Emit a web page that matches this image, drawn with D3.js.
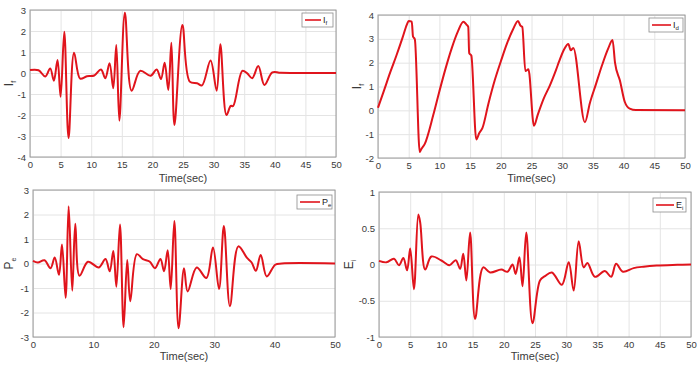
<!DOCTYPE html>
<html>
<head>
<meta charset="utf-8">
<script src="https://cdn.jsdelivr.net/npm/d3@7"></script>
<style>
  body { margin: 0; background: #fff; }
  svg { display: block; font-family: "Liberation Sans", Arial, sans-serif; }
</style>
</head>
<body>
<script>
// data (time in sec, value)
var tIf = [0,1.4,2.5,3.3,3.9,4.5,5.0,5.6,6.3,7.2,8.2,9.3,10.5,11.6,12.3,13.0,13.6,14.1,14.6,15.5,16.6,18.0,19.7,20.7,21.4,22.0,22.6,23.1,23.6,24.9,26.1,27.3,28.1,29.5,30.5,31.1,32.1,32.8,33.2,34.7,35.5,36.3,37.3,38.3,39.6,41,50];
var vIf = [0.14,0.13,-0.17,0.22,-0.37,0.62,-1.13,1.97,-3.1,0.97,-0.27,-0.15,-0.12,0.17,-0.25,0.46,-0.73,1.33,-2.27,2.87,-0.84,0.1,-0.13,0.17,-0.29,0.49,-0.81,1.44,-2.48,2.29,-0.41,-0.49,-0.59,0.59,-0.84,1.37,-2.0,-1.57,-1.57,0.1,-0.02,-0.25,0.33,-0.57,0.03,0.01,0];

var tId = [0,1,2,3,4,4.7,5.0,5.5,5.7,6.0,6.8,7.0,7.6,9,10,11,12,13,13.9,14.4,14.7,14.85,15.2,16.0,16.5,17.0,18,19,20,21,22,22.8,23.2,23.5,24.0,24.5,25.4,26,27,28,29,29.5,30.3,31.0,31.4,31.8,33.7,34.5,35.5,36.5,37.5,38.2,38.6,39.4,40.2,41,42,50];
var vId = [0.11,0.85,1.6,2.3,3.05,3.6,3.75,3.72,3.1,2.98,-1.75,-1.65,-1.42,-0.2,0.8,1.75,2.6,3.3,3.72,3.6,3.5,2.4,2.3,-1.22,-0.95,-0.75,0.3,1.25,2.05,2.8,3.4,3.75,3.55,3.5,1.65,1.72,-0.65,-0.2,0.5,1.05,1.7,2.05,2.55,2.78,2.52,2.62,-0.5,0.3,1.1,1.9,2.6,2.95,2.0,1.25,0.35,0.07,0.01,0];

var tPe = [0,0.8,1.9,2.9,3.6,4.3,4.8,5.4,5.9,6.5,7.0,7.7,9.1,10.9,12.0,12.7,13.3,13.8,14.4,15.0,15.6,16.1,17.2,18.2,19.3,20.2,21.1,21.7,22.3,22.8,23.4,24.1,25.0,25.6,27.1,28.7,29.8,30.8,31.6,32.6,34.0,35.4,36.2,36.9,37.7,38.7,40.1,41.2,50];
var vPe = [0.11,0.04,0.13,-0.19,0.24,-0.46,0.78,-1.4,2.34,-1.11,1.62,-0.5,0.07,-0.16,0.18,-0.32,0.51,-0.95,1.59,-2.6,0.14,-1.54,0.38,0.18,0.08,-0.19,0.18,-0.32,0.54,-1.04,1.73,-2.64,-0.19,-1.14,-0.16,-0.59,0.65,-1.04,1.53,-1.74,0.7,0.24,0.04,-0.3,0.35,-0.53,-0.05,0,0];

var tEi = [0,1.2,2.4,3.2,3.9,4.5,5.0,5.6,6.3,6.6,7.4,8.4,10.0,11.3,12.3,13.0,13.5,14.0,14.6,15.4,16.7,17.8,19.6,20.6,21.4,21.9,22.5,23.0,23.6,24.6,25.8,26.6,27.7,29.3,30.4,31.2,32.0,32.8,33.4,34.6,36.2,37.2,38.0,39.1,40.8,42.4,44.5,47.8,50];
var vEi = [0.05,0.03,0.08,-0.01,0.09,-0.08,0.22,-0.34,0.69,0.58,-0.07,0.11,0.055,-0.01,0.06,-0.06,0.15,-0.22,0.44,-0.75,-0.04,-0.11,-0.07,-0.1,0,-0.13,0.1,-0.3,0.44,-0.81,-0.22,-0.16,-0.11,-0.28,0.03,-0.36,0.32,-0.04,0.02,-0.17,-0.09,-0.17,0.01,-0.1,-0.05,-0.03,-0.015,-0.005,0];

var W = 700, H = 379;
var svg = d3.select('body').append('svg')
   .attr("width", W)
   .attr("height", H);

var smooth = d3.curveCatmullRom.alpha(0.5);

var panels = [
  {t: tIf, v: vIf, curve: smooth, x0: 30, x1: 336, y0: 10, y1: 157, ymin: -4, ymax: 3, yt: d3.range(-4, 4, 1), xt: d3.range(0, 51, 5),
   yl: ["I", "f"], ylx: 9, leg: ["I", "f"], lx: 302, ly: 13, lw: 31, xlab: 182},
  {t: tId, v: vId, curve: d3.curveMonotoneX, x0: 378, x1: 685, y0: 15, y1: 158, ymin: -2, ymax: 4, yt: d3.range(-2, 5, 1), xt: d3.range(0, 51, 5),
   yl: ["I", "f"], ylx: 357, leg: ["I", "d"], lx: 649, ly: 18, lw: 34, xlab: 182},
  {t: tPe, v: vPe, curve: smooth, x0: 33, x1: 335, y0: 190, y1: 337, ymin: -3, ymax: 3, yt: d3.range(-3, 4, 1), xt: d3.range(0, 51, 10),
   yl: ["P", "e"], ylx: 9, leg: ["P", "e"], lx: 297, ly: 195, lw: 35, xlab: 360},
  {t: tEi, v: vEi, curve: smooth, x0: 379, x1: 691, y0: 192, y1: 337, ymin: -1, ymax: 1, yt: [-1, -0.5, 0, 0.5, 1], xt: d3.range(0, 51, 5),
   yl: ["E", "i"], ylx: 349, leg: ["E", "i"], lx: 653, ly: 198, lw: 33, xlab: 360}
];

panels.forEach(function(p) {
  var x = d3.scaleLinear().domain([0, 50]).range([p.x0, p.x1]);
  var y = d3.scaleLinear().domain([p.ymin, p.ymax]).range([p.y1, p.y0]);
  var g = svg.append('g');

  // grid + tick labels
  var gx = g.append('g').attr('transform', 'translate(0,' + p.y1 + ')')
    .call(d3.axisBottom(x).tickValues(p.xt).tickSize(-(p.y1 - p.y0)).tickPadding(4).tickFormat(d3.format('d')));
  var gy = g.append('g').attr('transform', 'translate(' + p.x0 + ',0)')
    .call(d3.axisLeft(y).tickValues(p.yt).tickSize(-(p.x1 - p.x0)).tickPadding(4).tickFormat(function(d) { return d; }));
  [gx, gy].forEach(function(a) {
    a.select('.domain').remove();
    a.selectAll('line').attr('stroke', '#e4e4e4').attr('stroke-width', 1);
    a.selectAll('text').attr('fill', '#3a3a3a').style('font-size', '9.5px');
  });

  g.append('rect')
    .attr('x', p.x0).attr('y', p.y0)
    .attr('width', p.x1 - p.x0).attr('height', p.y1 - p.y0)
    .attr('fill', 'none').attr('stroke', '#9a9a9a').attr('stroke-width', 1);

  var line = d3.line()
    .x(function(d, i) { return x(p.t[i]); })
    .y(function(d) { return y(d); })
    .curve(p.curve);

  g.append('path')
    .datum(p.v)
    .attr('d', line)
    .attr('fill', 'none')
    .attr('stroke', '#e0141c')
    .attr('stroke-width', 2)
    .attr('stroke-linejoin', 'round');

  // axis labels
  g.append('text')
    .attr('x', (p.x0 + p.x1) / 2).attr('y', p.xlab)
    .attr('text-anchor', 'middle')
    .attr('fill', '#3a3a3a')
    .style('font-size', '11px')
    .text('Time(sec)');

  var yl = g.append('text')
    .attr('transform', 'translate(' + p.ylx + ',' + ((p.y0 + p.y1) / 2) + ') rotate(-90)')
    .attr('text-anchor', 'middle')
    .attr('dy', '0.35em')
    .attr('fill', '#3a3a3a')
    .style('font-size', '12px');
  yl.append('tspan').text(p.yl[0]);
  yl.append('tspan').attr('dy', '3').style('font-size', '7px').text(p.yl[1]);

  // legend
  g.append('rect')
    .attr('x', p.lx).attr('y', p.ly)
    .attr('width', p.lw).attr('height', 14)
    .attr('fill', '#fff').attr('stroke', '#8c8c8c').attr('stroke-width', 0.8);
  g.append('line')
    .attr('x1', p.lx + 3).attr('x2', p.lx + p.lw - 12)
    .attr('y1', p.ly + 7).attr('y2', p.ly + 7)
    .attr('stroke', '#e0141c').attr('stroke-width', 1.6);
  var lt = g.append('text')
    .attr('x', p.lx + p.lw - 10).attr('y', p.ly + 10)
    .attr('fill', '#222')
    .style('font-size', '9px');
  lt.append('tspan').text(p.leg[0]);
  lt.append('tspan').attr('dy', '2').style('font-size', '6px').text(p.leg[1]);
});
</script>
</body>
</html>
